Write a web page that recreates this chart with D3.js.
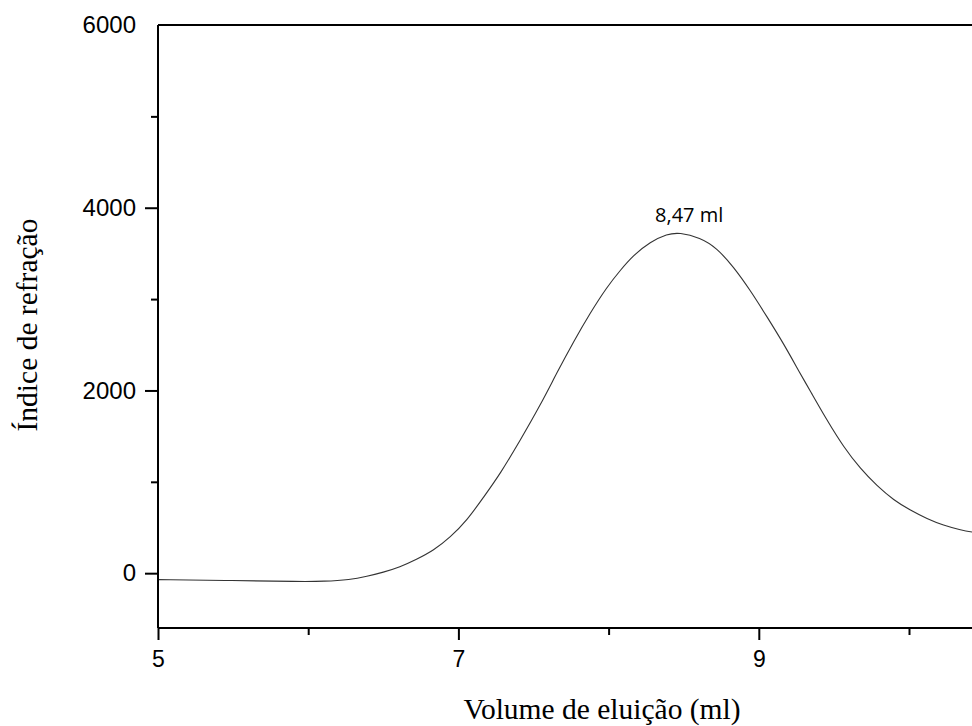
<!DOCTYPE html>
<html>
<head>
<meta charset="utf-8">
<script src="https://cdn.jsdelivr.net/npm/d3@7"></script>
<style>
  html, body { margin: 0; padding: 0; background: #fff; }
  svg { display: block; }
</style>
</head>
<body>
<svg id="chart" width="972" height="726"></svg>
<script>
// ---- data ----
const volumes = [5.00, 5.50, 5.95, 6.10, 6.28, 6.39, 6.50, 6.61, 6.72, 6.835, 6.946, 7.057, 7.168, 7.279, 7.41, 7.546, 7.656, 7.767, 7.878, 7.989, 8.078, 8.166, 8.277, 8.39, 8.47, 8.61, 8.72, 8.832, 8.943, 9.055, 9.165, 9.276, 9.34, 9.454, 9.565, 9.676, 9.787, 9.898, 10.01, 10.12, 10.23, 10.34, 10.42, 10.50];
const refractionIndex = [-70, -80, -92, -90, -72, -35, 10, 66, 150, 249, 394, 577, 833, 1089, 1450, 1840, 2195, 2535, 2850, 3133, 3316, 3481, 3626, 3712, 3730, 3672, 3560, 3352, 3097, 2805, 2513, 2184, 2002, 1673, 1380, 1144, 955, 800, 688, 596, 523, 475, 449, 432];
const xMajorTicks = [5, 7, 9];
const xMinorTicks = [6, 8, 10];
const yMajorTicks = [0, 2000, 4000, 6000];
const yMinorTicks = [1000, 3000, 5000];
const peakLabel = "8,47 ml";
const peakVolume = 8.47;
const peakValue = 3725;
const xTitle = "Volume de eluição (ml)";
const yTitle = "Índice de refração";

// ---- layout ----
const plotLeft = 158, plotTop = 25, plotBottom = 628;
const W = 972;
const x = d3.scaleLinear().domain([5, 10.5]).range([plotLeft, plotLeft + 5.5 * 150.2]);
const y = d3.scaleLinear().domain([-600, 6000]).range([plotBottom, plotTop]);

const svg = d3.select("#chart");

svg.append("defs").append("clipPath").attr("id", "clip")
  .append("rect").attr("x", plotLeft).attr("y", plotTop).attr("width", W - plotLeft).attr("height", plotBottom - plotTop);

// curve
const line = d3.line()
  .x((d, i) => x(volumes[i]))
  .y(d => y(d))
  .curve(d3.curveBasis);

svg.append("path")
  .datum(refractionIndex)
  .attr("clip-path", "url(#clip)")
  .attr("fill", "none")
  .attr("stroke", "#333")
  .attr("stroke-width", 1.1)
  .attr("d", line);

// frame: top line
svg.append("line")
  .attr("x1", plotLeft).attr("x2", W + 5)
  .attr("y1", plotTop).attr("y2", plotTop)
  .attr("stroke", "#000").attr("stroke-width", 2);

// y axis
const yAxis = svg.append("g")
  .attr("transform", `translate(${plotLeft},0)`)
  .call(d3.axisLeft(y).tickValues(yMajorTicks).tickSize(13).tickPadding(9).tickFormat(d3.format("d")));
yAxis.select(".domain").attr("d", `M0,${plotTop}V${plotBottom}`).attr("stroke-width", 2);
yAxis.selectAll(".tick line").attr("stroke-width", 2)
  .filter(d => d === 6000).remove();
yAxis.selectAll(".tick text")
  .attr("font-family", "'Liberation Sans', Arial, sans-serif")
  .attr("font-size", 24).attr("fill", "#000");

const yMinor = svg.append("g")
  .attr("transform", `translate(${plotLeft},0)`)
  .call(d3.axisLeft(y).tickValues(yMinorTicks).tickSize(7).tickFormat(""));
yMinor.select(".domain").remove();
yMinor.selectAll(".tick line").attr("stroke-width", 2);

// x axis
const xAxis = svg.append("g")
  .attr("transform", `translate(0,${plotBottom})`)
  .call(d3.axisBottom(x).tickValues(xMajorTicks).tickSize(12).tickPadding(11).tickFormat(d3.format("d")));
xAxis.select(".domain").attr("d", `M${plotLeft},0H${W + 5}`).attr("stroke-width", 2);
xAxis.selectAll(".tick line").attr("stroke-width", 2);
xAxis.selectAll(".tick text")
  .attr("font-family", "'Liberation Sans', Arial, sans-serif")
  .attr("font-size", 23).attr("fill", "#000");

const xMinor = svg.append("g")
  .attr("transform", `translate(0,${plotBottom})`)
  .call(d3.axisBottom(x).tickValues(xMinorTicks).tickSize(7).tickFormat(""));
xMinor.select(".domain").remove();
xMinor.selectAll(".tick line").attr("stroke-width", 2);

// peak annotation
svg.append("text")
  .attr("x", x(peakVolume) + 10)
  .attr("y", y(peakValue) - 11)
  .attr("text-anchor", "middle")
  .attr("font-family", "'Open Sans', Lato, sans-serif")
  .attr("font-size", 20)
  .attr("fill", "#000")
  .text(peakLabel);

// axis titles
svg.append("text")
  .attr("x", 602).attr("y", 719)
  .attr("text-anchor", "middle")
  .attr("font-family", "'Liberation Serif', 'Times New Roman', serif")
  .attr("font-size", 29.5)
  .attr("fill", "#000")
  .text(xTitle);

svg.append("text")
  .attr("transform", "translate(37,325) rotate(-90)")
  .attr("text-anchor", "middle")
  .attr("font-family", "'Liberation Serif', 'Times New Roman', serif")
  .attr("font-size", 29.5)
  .attr("fill", "#000")
  .text(yTitle);
</script>
</body>
</html>
